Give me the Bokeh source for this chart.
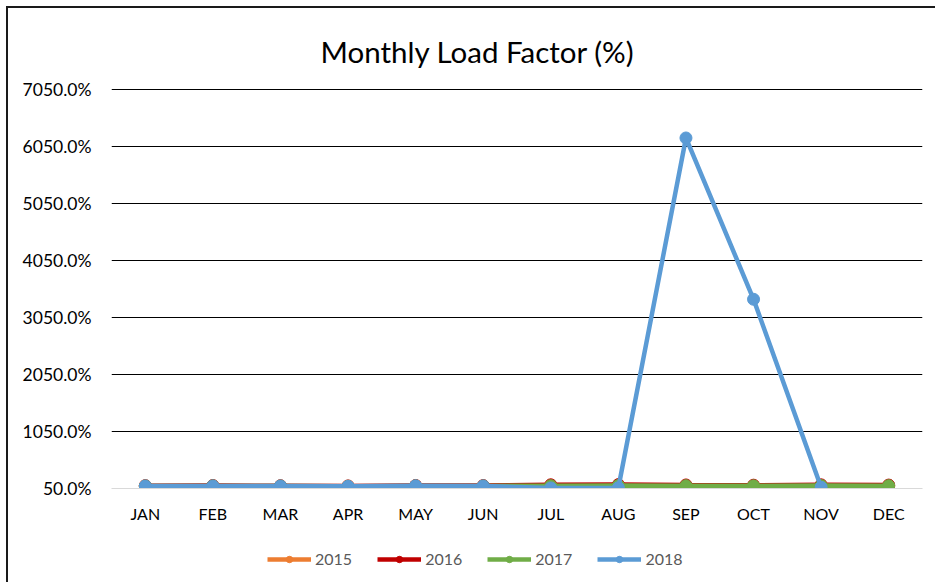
from bokeh.plotting import figure
from bokeh.layouts import column
from bokeh.models import FixedTicker, PrintfTickFormatter, Legend, LegendItem, Grid, Range1d, FactorRange
from bokeh.embed import file_html
from bokeh.resources import INLINE

months = ["JAN", "FEB", "MAR", "APR", "MAY", "JUN", "JUL", "AUG", "SEP", "OCT", "NOV", "DEC"]
lf_2015 = [90, 92, 89, 86, 92, 90, 85, 84, 86, 82, 85, 86]
lf_2016 = [100, 102, 99, 95, 103, 101, 115, 118, 112, 108, 114, 110]
lf_2017 = [94, 96, 93, 90, 96, 94, 100, 102, 99, 97, 101, 100]
lf_2018 = [95, 96, 94, 88, 98, 96, 60, 63, 6200, 3370, 72, float("nan")]
series_names = ["2015", "2016", "2017", "2018"]
series_colors = ["#ED7D31", "#C00000", "#70AD47", "#5B9BD5"]
y_ticks = [50, 1050, 2050, 3050, 4050, 5050, 6050, 7050]

FONT = "Lato"

p = figure(width=927, height=518, x_range=FactorRange(*months), y_range=Range1d(50, 7068),
           output_backend="svg", toolbar_location=None,
           min_border_left=103, min_border_right=13, min_border_top=80, min_border_bottom=38)
p.outline_line_color = None
p.background_fill_color = "white"

p.title.text = "Monthly Load Factor (%)"
p.title.align = "left"
p.title.offset = 209
p.title.text_font = FONT
p.title.text_font_size = "29.5px"
p.title.text_font_style = "normal"
p.title.text_color = "#000000"
p.title.standoff = 39

p.xgrid.grid_line_color = None
p.ygrid.grid_line_color = None
p.add_layout(Grid(dimension=1, ticker=FixedTicker(ticks=y_ticks[1:]), grid_line_color="#000000", grid_line_width=1))

p.yaxis.ticker = FixedTicker(ticks=y_ticks)
p.yaxis.formatter = PrintfTickFormatter(format="%.1f%%")
p.yaxis.axis_line_color = None
p.yaxis.major_tick_line_color = None
p.yaxis.minor_tick_line_color = None
p.yaxis.major_label_text_font = FONT
p.yaxis.major_label_text_font_size = "17.5px"
p.yaxis.major_label_text_color = "#000000"
p.yaxis.major_label_standoff = 14

p.xaxis.axis_line_color = "#D9D9D9"
p.xaxis.axis_line_width = 1
p.xaxis.major_tick_line_color = None
p.xaxis.minor_tick_line_color = None
p.xaxis.major_label_text_font = FONT
p.xaxis.major_label_text_font_size = "16px"
p.xaxis.major_label_text_color = "#000000"
p.xaxis.major_label_standoff = 9

for name, vals, col in zip(series_names, [lf_2015, lf_2016, lf_2017, lf_2018], series_colors):
    p.line(months, vals, line_color=col, line_width=4.5)
    p.scatter(months, vals, size=12, fill_color=col, line_color=col, marker="circle")

# legend strip below the chart (swatch renderers lie outside the visible range)
p2 = figure(width=927, height=56, x_range=Range1d(0, 1), y_range=Range1d(0, 1),
            output_backend="svg", toolbar_location=None,
            x_axis_location=None, y_axis_location=None,
            min_border_left=0, min_border_right=0, min_border_top=0, min_border_bottom=0)
p2.outline_line_color = None
p2.xgrid.grid_line_color = None
p2.ygrid.grid_line_color = None

items = []
for name, col in zip(series_names, series_colors):
    ln = p2.line(x=[5, 6], y=[5, 5], line_color=col, line_width=4.5)
    sc = p2.scatter(x=[5], y=[5], size=12, fill_color=col, line_color=col, marker="circle")
    items.append(LegendItem(label=name, renderers=[ln, sc]))

legend = Legend(items=items, orientation="horizontal", location=(156, 14),
                glyph_width=44, glyph_height=16, label_standoff=4, spacing=25,
                label_text_font=FONT, label_text_font_size="16px", label_text_color="#595959",
                border_line_color=None, background_fill_alpha=0, padding=0, margin=0)
p2.add_layout(legend, "center")

layout = column(p, p2, spacing=0)
layout.styles = {"margin-left": "6px", "margin-top": "6px",
                 "border-left": "2px solid #1a1a1a", "border-top": "2px solid #1a1a1a"}

open("out.html", "w").write(file_html(layout, INLINE))
